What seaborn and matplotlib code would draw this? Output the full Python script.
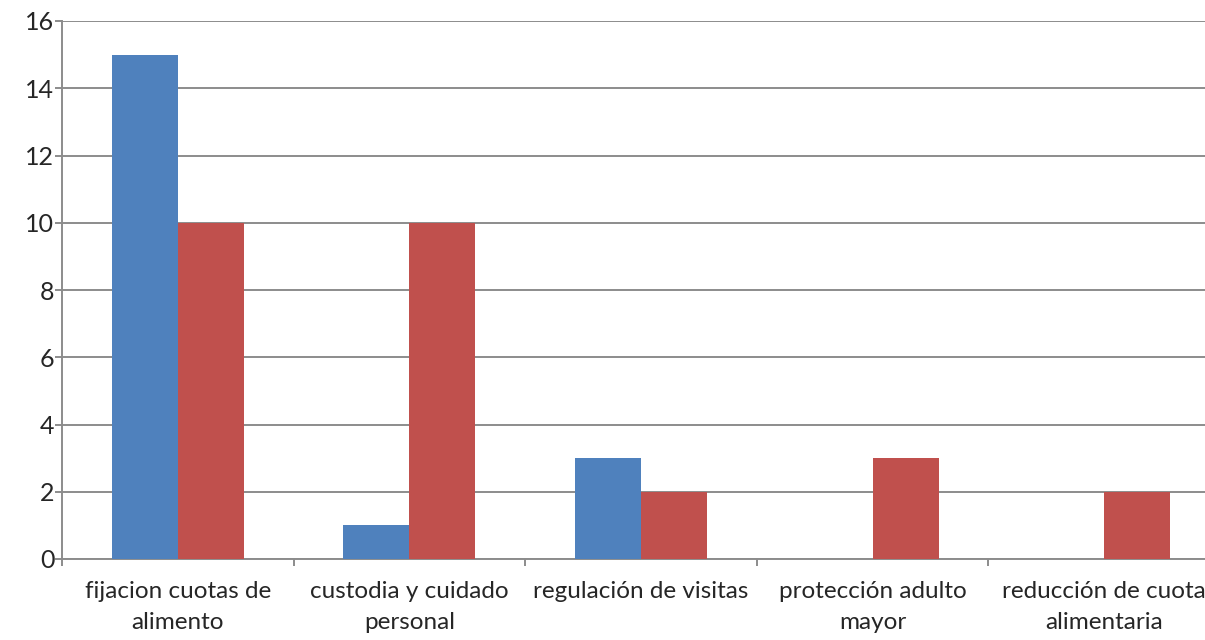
import numpy as np
import pandas as pd
import seaborn as sns
from matplotlib import pyplot as plt

# categories and the two series
categorias = ["fijacion cuotas de\nalimento", "custodia y cuidado\npersonal",
              "regulación de visitas", "protección adulto\nmayor",
              "reducción de cuota\nalimentaria"]
serie_1 = [15, 1, 3, 0, 0]
serie_2 = [10, 10, 2, 3, 2]
y_ticks = [0, 2, 4, 6, 8, 10, 12, 14, 16]

df = pd.DataFrame({
    "categoria": categorias * 2,
    "valor": serie_1 + serie_2,
    "serie": ["Serie 1"] * len(serie_1) + ["Serie 2"] * len(serie_2),
})

sns.set_style("white")
plt.rcParams['font.family'] = ['Lato', 'DejaVu Sans']

fig = plt.figure(figsize=(12.05, 6.4), dpi=100)
ax = fig.add_axes([62 / 1205, 1 - 559 / 640, (1220 - 62) / 1205, (559 - 21) / 640])

sns.barplot(data=df, x="categoria", y="valor", hue="serie",
            palette=["#4F81BD", "#C0504D"], width=0.57, saturation=1,
            edgecolor="none", ax=ax, zorder=3)
ax.legend_.remove()

grid_c = "#8C8C8C"
ax.set_ylim(0, 16)
ax.set_yticks(y_ticks)
ax.yaxis.grid(True, color=grid_c, linewidth=1.4, zorder=0)
ax.set_axisbelow(True)
ax.set_xlim(-0.5, len(categorias) - 0.5)

# category boundaries as major ticks, labels on minor ticks
ax.set_xticks(np.arange(-0.5, len(categorias), 1.0))
ax.set_xticklabels([])
ax.set_xticks(np.arange(len(categorias)), minor=True)
ax.set_xticklabels(categorias, minor=True, fontsize=17.5, linespacing=1.55,
                   ha="center", multialignment="center")
ax.tick_params(axis="x", which="major", direction="out", length=5, width=1.4,
               color=grid_c, bottom=True)
ax.tick_params(axis="x", which="minor", length=0, pad=16)
ax.tick_params(axis="y", direction="out", length=5, width=1.4, color=grid_c,
               left=True, labelsize=18, pad=0.5)

for side in ["top", "right"]:
    ax.spines[side].set_visible(False)
for side in ["left", "bottom"]:
    ax.spines[side].set_color(grid_c)
    ax.spines[side].set_linewidth(1.4)

ax.set_xlabel("")
ax.set_ylabel("")

plt.savefig("out.png", dpi=100)
